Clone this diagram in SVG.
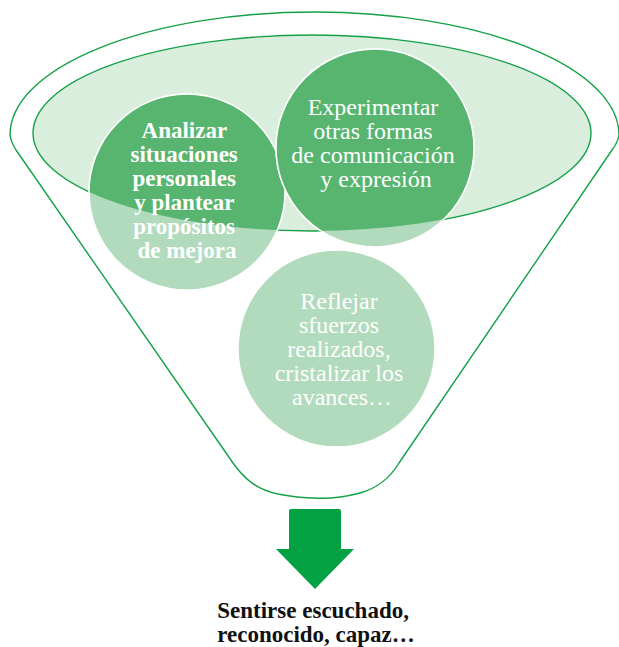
<svg xmlns="http://www.w3.org/2000/svg" xmlns:xlink="http://www.w3.org/1999/xlink" width="619" height="647" viewBox="0 0 619 647">
  <style>
    .outline { fill: none; stroke: #14a046; stroke-width: 1.4; }
    .rim { fill: #daeedd; stroke: #14a046; stroke-width: 1.4; }
    .light { fill: #b2dbbd; stroke: #ffffff; stroke-width: 1.5; }
    .dark { fill: #57b56f; stroke: #ffffff; stroke-width: 1.5; }
    .lbl { font-family: "Liberation Serif", "Times New Roman", serif; font-size: 24px; fill: #ffffff; text-anchor: middle; }
    .bold { font-weight: bold; font-size: 23px; }
    .out { font-family: "Liberation Serif", "Times New Roman", serif; font-size: 23px; font-weight: bold; fill: #111111; text-anchor: middle; }
  </style>
  <defs>
    <clipPath id="inside">
      <ellipse cx="312" cy="133" rx="279" ry="98"/>
    </clipPath>
    <circle id="c1" cx="187" cy="192" r="98"/>
    <circle id="c2" cx="375" cy="148" r="99"/>
  </defs>

  <g id="funnel">
    <path class="outline" d="M 10,135 A 304.5 123 0 0 1 619,135 Q 618,142 612,150 L 399,463 C 390,478 378,488 360,493 C 345,497 330,499 313,498 C 300,498 290,496 278,494 C 258,490 245,480 233,463 L 16,150 Q 11,142 10,135 Z"/>
    <ellipse class="rim" cx="312" cy="133" rx="279" ry="98"/>
  </g>

  <g id="connectors">
    <path d="M 291,509 L 339,509 Q 341,509 341,511 L 341,549 L 354,549 L 315,589 L 276,549 L 289,549 L 289,511 Q 289,509 291,509 Z" fill="#02a141"/>
  </g>

  <g id="node-analizar">
    <use xlink:href="#c1" class="light"/>
    <use xlink:href="#c1" class="dark" clip-path="url(#inside)"/>
    <text class="lbl bold">
      <tspan x="187" y="138">Analizar</tspan>
      <tspan x="187" y="162">situaciones</tspan>
      <tspan x="187" y="186">personales</tspan>
      <tspan x="187" y="210">y plantear</tspan>
      <tspan x="187" y="234">propósitos</tspan>
      <tspan x="187" y="258">de mejora</tspan>
    </text>
  </g>

  <g id="node-experimentar">
    <use xlink:href="#c2" class="light"/>
    <use xlink:href="#c2" class="dark" clip-path="url(#inside)"/>
    <text class="lbl">
      <tspan x="376" y="115">Experimentar</tspan>
      <tspan x="376" y="139">otras formas</tspan>
      <tspan x="376" y="163">de comunicación</tspan>
      <tspan x="376" y="187">y expresión</tspan>
    </text>
  </g>

  <g id="node-reflejar">
    <circle class="light" cx="336.5" cy="348.5" r="98.5"/>
    <text class="lbl">
      <tspan x="342" y="309">Reflejar</tspan>
      <tspan x="342" y="333">sfuerzos</tspan>
      <tspan x="342" y="357">realizados,</tspan>
      <tspan x="342" y="381">cristalizar los</tspan>
      <tspan x="342" y="405">avances…</tspan>
    </text>
  </g>

  <g id="node-result">
    <text class="out">
      <tspan x="316" y="618">Sentirse escuchado,</tspan>
      <tspan x="316" y="642">reconocido, capaz…</tspan>
    </text>
  </g>
</svg>
